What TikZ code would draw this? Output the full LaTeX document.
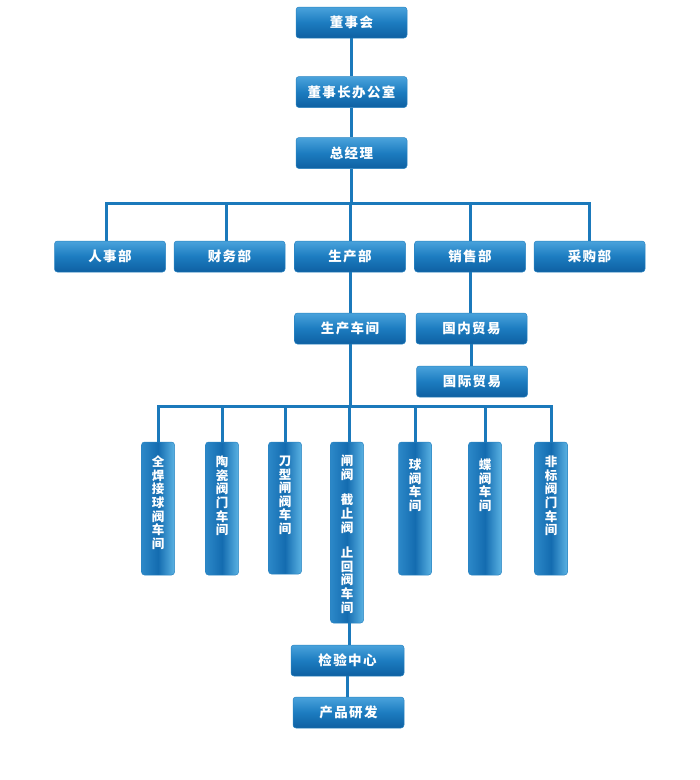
\documentclass[tikz,border=0pt]{standalone}
\usepackage{fontspec}
\newfontfamily\cjkh[LetterSpace=10]{Noto Sans CJK SC}
\newfontfamily\cjkv{Noto Sans CJK SC}
\definecolor{boxtop}{HTML}{4AA3DC}
\definecolor{boxmid}{HTML}{1C7CC0}
\definecolor{boxbot}{HTML}{0E60A2}
\definecolor{boxedge}{HTML}{2A84C2}
\definecolor{vleft}{HTML}{2C88C8}
\definecolor{vmid}{HTML}{146CB0}
\definecolor{vright}{HTML}{5AB2E3}
\definecolor{linkc}{HTML}{1B79BB}
\tikzset{
  hbox/.style={rectangle, rounded corners=3pt, minimum width=111pt, minimum height=31pt,
    inner sep=0pt, draw=boxedge, line width=0.5pt,
    top color=boxtop, bottom color=boxbot, middle color=boxmid,
    text=white, font=\cjkh\bfseries\fontsize{13.5}{15}\selectfont},
  vbox/.style={rectangle, rounded corners=3pt, minimum width=33pt,
    inner sep=0pt, draw=boxedge, line width=0.5pt,
    left color=vleft, right color=vright, middle color=vmid},
  vtext/.style={anchor=north, inner sep=0pt, align=center, text=white,
    font=\cjkv\bfseries\fontsize{12.5}{13.6}\selectfont},
  link/.style={draw=linkc, line width=3pt},
}
\begin{document}
\begin{tikzpicture}[x=1pt,y=-1pt]
\useasboundingbox (0,0) rectangle (700,780);
% top chain
\node[hbox] (dsh) at (351.5,22.5) {董事会};
\node[hbox] (bgs) at (351.5,92) {董事长办公室};
\node[hbox] (zjl) at (351.5,153) {总经理};
% departments
\node[hbox] (rsb) at (110,256.5) {人事部};
\node[hbox] (cwb) at (229.5,256.5) {财务部};
\node[hbox] (scb) at (350,256.5) {生产部};
\node[hbox] (xsb) at (470,256.5) {销售部};
\node[hbox] (cgb) at (589.5,256.5) {采购部};
% second level
\node[hbox] (sccj) at (350,328.5) {生产车间};
\node[hbox] (gnmy) at (471.5,328.5) {国内贸易};
\node[hbox] (gjmy) at (472,381.5) {国际贸易};
% workshops
\node[vbox, minimum height=133pt] (v1) at (158,508.5) {};
\node[vbox, minimum height=133pt] (v2) at (222,508.5) {};
\node[vbox, minimum height=132pt] (v3) at (285,508) {};
\node[vbox, minimum height=181pt] (v4) at (347,532.5) {};
\node[vbox, minimum height=133pt] (v5) at (415,508.5) {};
\node[vbox, minimum height=133pt] (v6) at (485,508.5) {};
\node[vbox, minimum height=133pt] (v7) at (551,508.5) {};
\node[vtext] (t1) at ([yshift=-14pt]v1.north) {全\\焊\\接\\球\\阀\\车\\间};
\node[vtext] (t2) at ([yshift=-14pt]v2.north) {陶\\瓷\\阀\\门\\车\\间};
\node[vtext] (t3) at ([yshift=-14pt]v3.north) {刀\\型\\闸\\阀\\车\\间};
\node[vtext] (t4) at ([yshift=-13pt]v4.north) {闸\\阀\\[12pt]截\\止\\阀\\[12pt]止\\回\\阀\\车\\间};
\node[vtext] (t5) at ([yshift=-17pt]v5.north) {球\\阀\\车\\间};
\node[vtext] (t6) at ([yshift=-17pt]v6.north) {蝶\\阀\\车\\间};
\node[vtext] (t7) at ([yshift=-14pt]v7.north) {非\\标\\阀\\门\\车\\间};
% bottom
\node[hbox, minimum width=113pt] (jyzx) at (347.5,660.5) {检验中心};
\node[hbox] (cpyf) at (348.5,712.5) {产品研发};
% bus coordinates
\coordinate (bus1) at (0,203.5);
\coordinate (bus2) at (0,406.5);
% connectors
\draw[link] (dsh.south) -- (bgs.north);
\draw[link] (bgs.south) -- (zjl.south |- bgs.south) -- (zjl.north);
\draw[link] (zjl.south) -- (zjl.south |- bus1);
\draw[link] ([xshift=-3.5pt]rsb.north) |- (bus1 -| cgb.north) -- (cgb.north);
\draw[link] ([xshift=-3.5pt]cwb.north) -- ([xshift=-3.5pt]cwb.north |- bus1);
\draw[link] (scb.north) -- (scb.north |- bus1);
\draw[link] (xsb.north) -- (xsb.north |- bus1);
\draw[link] (scb.south) -- (sccj.north);
\draw[link] (xsb.south) -- (xsb.south |- gnmy.north);
\draw[link] (gnmy.south) -- (gnmy.south |- gjmy.north);
\draw[link] (sccj.south) -- (sccj.south |- bus2);
\draw[link] (v1.north) |- (bus2 -| v7.north) -- (v7.north);
\foreach \v in {v2,v3,v5,v6} {\draw[link] (\v.north) -- (\v.north |- bus2);}
\draw[link] ([xshift=2pt]v4.north) -- ([xshift=2pt]v4.north |- bus2);
\draw[link] ([xshift=2pt]v4.south) -- ([xshift=2pt]v4.south |- jyzx.north);
\draw[link] (jyzx.south) -- (jyzx.south |- cpyf.north);
\end{tikzpicture}
\end{document}
